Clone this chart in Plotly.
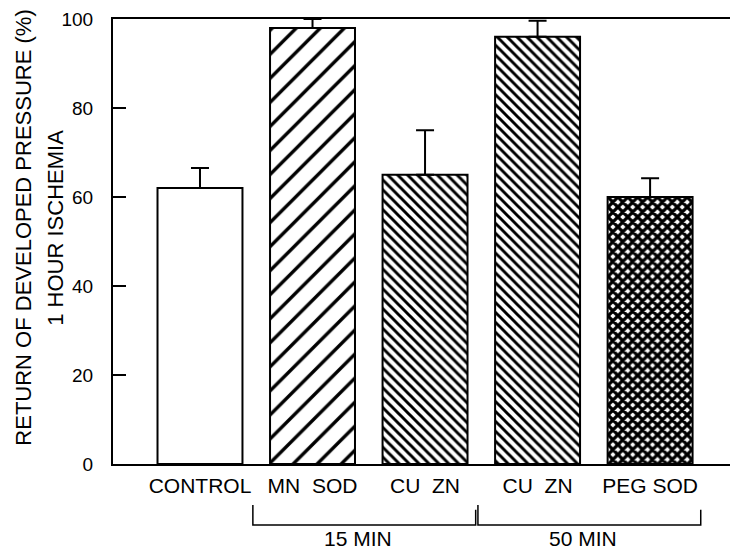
import plotly.graph_objects as go

# ---- data ----
categories = ["CONTROL", "MN\u00a0\u00a0SOD", "CU\u00a0\u00a0ZN", "CU\u00a0\u00a0ZN", "PEG SOD"]
values = [62, 98, 65, 96, 60]
errors = [4.5, 2, 10, 3.6, 4.2]
group_names = ["15 MIN", "50 MIN"]
group_members = [[1, 2], [3, 4]]
patterns = ["", "/", "\\", "\\", "x"]
ytick_vals = [0, 20, 40, 60, 80, 100]
ytitle_line1 = "RETURN OF DEVELOPED PRESSURE (%)"
ytitle_line2 = "1 HOUR ISCHEMIA"

FONT = "Liberation Sans, Arial, Helvetica, sans-serif"
x = list(range(len(categories)))

fig = go.Figure(go.Bar(
    x=x, y=values, width=0.755,
    marker=dict(
        color="white",
        line=dict(color="black", width=2),
        pattern=dict(shape=patterns, fgcolor="black", bgcolor="white", fgopacity=1,
                     size=[8, 17, 7, 7, 7], solidity=[0.3, 0.2, 0.42, 0.42, 0.72]),
    ),
    error_y=dict(type="data", symmetric=False, array=errors, arrayminus=[0] * len(values),
                 color="black", thickness=2, width=9),
    showlegend=False,
))

shapes = []
annotations = []
for name, members in zip(group_names, group_members):
    left = min(members) - 0.53
    right = max(members) + 0.45
    shapes.append(dict(type="path", xref="x", yref="paper",
                       path=f"M {left},-0.092 L {left},-0.137 L {right},-0.137 L {right},-0.103",
                       line=dict(color="black", width=1.5)))
    annotations.append(dict(x=(left + right) / 2 - 0.06, y=-0.168, xref="x", yref="paper",
                            text=name, showarrow=False, xanchor="center", yanchor="middle",
                            font=dict(size=21, family=FONT, color="black")))

annotations.append(dict(x=-0.145, y=0.53, xref="paper", yref="paper", text=ytitle_line1,
                        textangle=-90, showarrow=False, xanchor="center", yanchor="middle",
                        font=dict(size=22, family=FONT, color="black")))
annotations.append(dict(x=-0.093, y=0.53, xref="paper", yref="paper", text=ytitle_line2,
                        textangle=-90, showarrow=False, xanchor="center", yanchor="middle",
                        font=dict(size=22, family=FONT, color="black")))

fig.update_layout(
    width=730, height=551,
    margin=dict(l=113, r=0, t=19, b=87),
    paper_bgcolor="white", plot_bgcolor="white",
    font=dict(family=FONT, color="black"),
    shapes=shapes, annotations=annotations,
    xaxis=dict(range=[-0.773, 4.71], tickvals=x, ticktext=categories, ticks="",
               showline=True, linecolor="black", linewidth=2, mirror=True,
               showgrid=False, zeroline=False, tickfont=dict(size=21, family=FONT, color="black"),
               ticklabelstandoff=2),
    yaxis=dict(range=[0, 100], tickvals=ytick_vals, ticks="inside", ticklen=13, tickwidth=2,
               tickcolor="black", showline=True, linecolor="black", linewidth=2,
               showgrid=False, zeroline=False, tickfont=dict(size=19, family=FONT, color="black"),
               ticklabelstandoff=14),
)

fig.write_html("out.html")
